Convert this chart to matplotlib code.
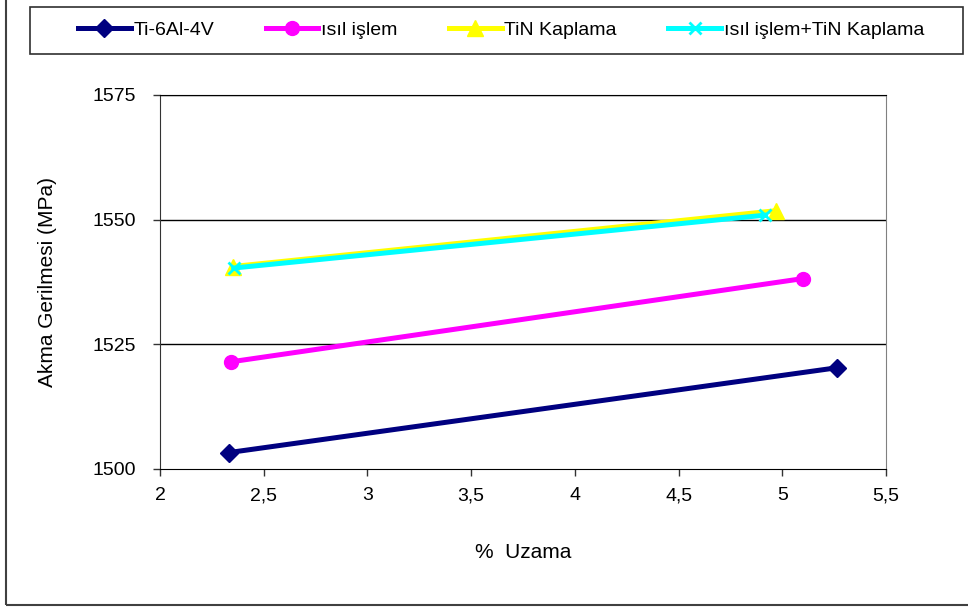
import matplotlib.pyplot as plt
from matplotlib.patches import Rectangle
from matplotlib.ticker import FuncFormatter

plt.rcParams['font.family'] = ['Liberation Sans', 'DejaVu Sans']

# elongation (%) and yield stress (MPa) per condition
ti_x = [2.333, 5.263]
ti_y = [1503.3, 1520.3]
isil_x = [2.343, 5.102]
isil_y = [1521.5, 1538.2]
tin_x = [2.35, 4.97]
tin_y = [1540.6, 1551.8]
both_x = [2.355, 4.917]
both_y = [1540.3, 1550.9]

labels = ["Ti-6Al-4V", "ısıl işlem", "TiN Kaplama", "ısıl işlem+TiN Kaplama"]
xticks = [2, 2.5, 3, 3.5, 4, 4.5, 5, 5.5]
yticks = [1500, 1525, 1550, 1575]

fig = plt.figure(figsize=(9.68, 6.07), dpi=100)
ax = fig.add_axes([160 / 968, 1 - 469 / 607, 726 / 968, 374 / 607])

# outer chart frame and legend box
fig.patches.append(Rectangle((6 / 968, 2 / 607), 1.2, 1.2, transform=fig.transFigure,
                             fill=False, edgecolor='#404040', linewidth=1.5))
fig.patches.append(Rectangle((30 / 968, 1 - 54 / 607), 933 / 968, 47 / 607,
                             transform=fig.transFigure, fill=False,
                             edgecolor='#303030', linewidth=1.2))

lw = 3.6
ax.plot(ti_x, ti_y, color='#000080', lw=lw, marker='D', ms=9, label=labels[0], zorder=3)
ax.plot(isil_x, isil_y, color='#FF00FF', lw=lw, marker='o', ms=10, label=labels[1], zorder=3)
ax.plot(tin_x, tin_y, color='#FFFF00', lw=lw, marker='^', ms=11, label=labels[2], zorder=3)
ax.plot(both_x, both_y, color='#00FFFF', lw=lw, marker='x', ms=9, mew=2, label=labels[3], zorder=4)

ax.set_xlim(2, 5.5)
ax.set_ylim(1500, 1575)
ax.set_xticks(xticks)
ax.set_yticks(yticks)
ax.xaxis.set_major_formatter(FuncFormatter(lambda v, p: f"{v:g}".replace('.', ',')))
ax.tick_params(direction='out', length=5, labelsize=14, width=1, color='#333333')
ax.tick_params(axis='x', pad=8)
ax.tick_params(axis='y', pad=12)

for y in yticks[1:]:
    ax.axhline(y, color='black', lw=1, zorder=1)
ax.spines['left'].set_color('#333333')
ax.spines['bottom'].set_color('black')
ax.spines['right'].set_color('#808080')
ax.spines['top'].set_color('black')

ax.set_xlabel("%  Uzama", fontsize=15, labelpad=28)
ax.set_ylabel("Akma Gerilmesi (MPa)", fontsize=15, labelpad=26)

fig.legend(loc='center left', bbox_to_anchor=(78 / 968, 1 - 30 / 607), ncol=4,
           frameon=False, fontsize=14, handlelength=2.7, handletextpad=0.15,
           columnspacing=2.65, borderaxespad=0, borderpad=0)

fig.savefig("out.png", dpi=100)
